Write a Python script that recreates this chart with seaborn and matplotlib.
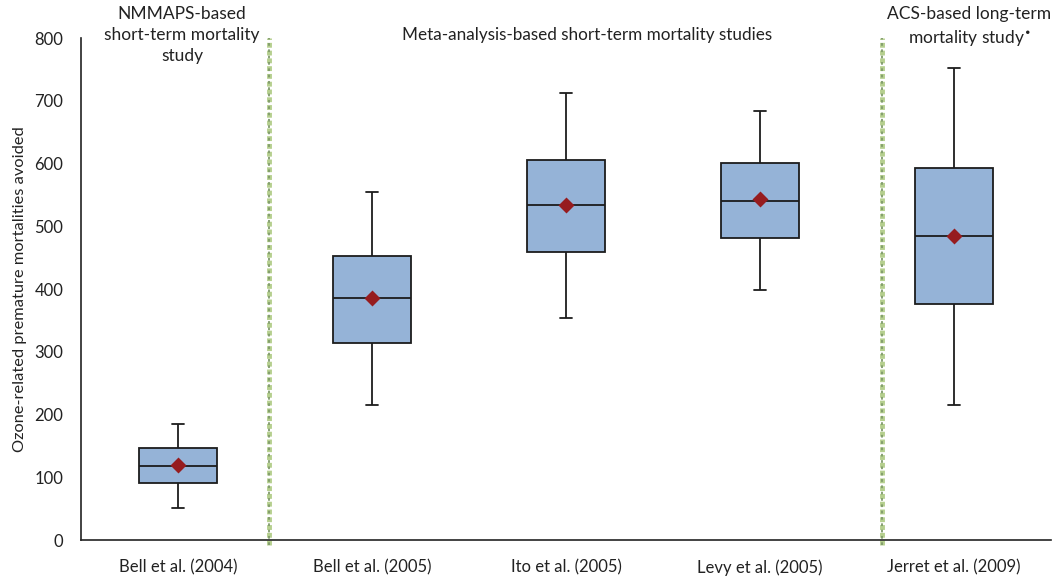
import numpy as np
import pandas as pd
import seaborn as sns
import matplotlib.pyplot as plt

studies = ['Bell et al. (2004)', 'Bell et al. (2005)', 'Ito et al. (2005)',
           'Levy et al. (2005)', 'Jerret et al. (2009)']
whisker_low = [51, 215, 354, 398, 215]
q1 = [91, 314, 459, 481, 376]
median = [118, 386, 534, 540, 484]
q3 = [147, 453, 606, 601, 593]
whisker_high = [185, 555, 712, 684, 752]
means = [119, 386, 534, 543, 485]

# five-number summaries -> points, so seaborn's quantiles land on them
rows = []
for s, a, b, c, d, e in zip(studies, whisker_low, q1, median, q3, whisker_high):
    for v in (a, b, c, d, e):
        rows.append({'study': s, 'deaths': v})
df = pd.DataFrame(rows)

sns.set_style('white')
plt.rcParams['font.family'] = ['Lato', 'DejaVu Sans']

fig = plt.figure(figsize=(10.55, 5.77), dpi=100)
ax = fig.add_axes([0.077, 0.064, 0.919, 0.87])

sns.boxplot(data=df, x='study', y='deaths', order=studies, whis=(0, 100),
            width=0.4, color='#95b3d7', saturation=1, linecolor='#1c1c1c',
            linewidth=1.3, capwidths=0.06, ax=ax)
sns.pointplot(x=studies, y=means, linestyle='none', markers='D', color='#961c1f',
              markersize=6, ax=ax, zorder=5)

# section dividers
for xv in (0.47, 3.63):
    ax.axvline(xv, ymin=-0.01, ymax=1.0, color='#b5cf8e', lw=3.5,
               linestyle=(0, (1, 0.6)), clip_on=False, zorder=1)
    ax.axvline(xv, ymin=-0.01, ymax=1.0, color='#7f9a6a', lw=1.3,
               linestyle=(0, (1.5, 2.0)), clip_on=False, zorder=1)

ax.set_xlim(-0.5, 4.5)
ax.set_ylim(0, 800)
ax.set_yticks(range(0, 801, 100))
ax.set_xlabel('')
ax.set_ylabel('Ozone-related premature mortalities avoided', fontsize=11.8,
              color='#222222')
ax.yaxis.set_label_coords(-0.056, 0.5)
ax.tick_params(axis='y', direction='inout', length=8, width=1, labelsize=12,
               colors='#222222', pad=9)
ax.tick_params(axis='x', direction='out', length=5, width=1, labelsize=12,
               colors='#222222', pad=9)
sns.despine(ax=ax, top=True, right=True)
for sp in ('left', 'bottom'):
    ax.spines[sp].set_color('#222222')
    ax.spines[sp].set_linewidth(1.2)

ax.text(0.02, 851, 'NMMAPS-based\nshort-term mortality\nstudy', ha='center',
        va='top', fontsize=12.5, color='#222222', linespacing=1.4, clip_on=False)
ax.text(2.11, 817, 'Meta-analysis-based short-term mortality studies', ha='center',
        va='top', fontsize=12.3, color='#222222', clip_on=False)
ax.text(4.08, 851, 'ACS-based long-term\nmortality study$^{\\bullet}$', ha='center',
        va='top', fontsize=12.5, color='#222222', linespacing=1.4, clip_on=False)

fig.savefig('out.png', dpi=100)
